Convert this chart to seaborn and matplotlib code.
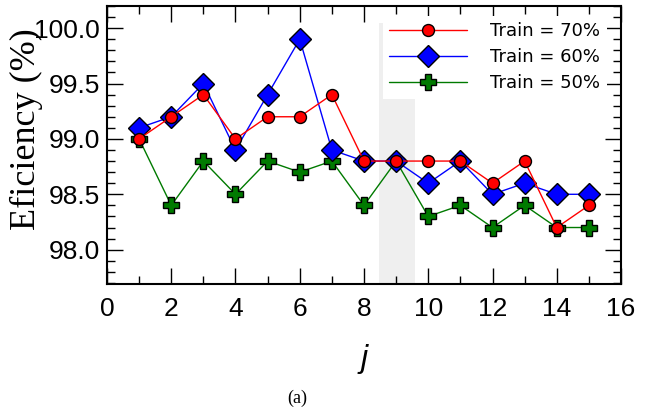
import matplotlib
matplotlib.use("Agg")
import matplotlib.pyplot as plt
from matplotlib.ticker import MultipleLocator
from matplotlib.patches import Rectangle
import seaborn as sns
import pandas as pd

# Step index j and efficiency (%) for each training split
j = [1, 2, 3, 4, 5, 6, 7, 8, 9, 10, 11, 12, 13, 14, 15]
train70 = [99.0, 99.2, 99.4, 99.0, 99.2, 99.2, 99.4, 98.8, 98.8, 98.8, 98.8, 98.6, 98.8, 98.2, 98.4]
train60 = [99.1, 99.2, 99.5, 98.9, 99.4, 99.9, 98.9, 98.8, 98.8, 98.6, 98.8, 98.5, 98.6, 98.5, 98.5]
train50 = [99.0, 98.4, 98.8, 98.5, 98.8, 98.7, 98.8, 98.4, 98.8, 98.3, 98.4, 98.2, 98.4, 98.2, 98.2]
labels = ["Train = 70%", "Train = 60%", "Train = 50%"]

# highlighted band on the j axis
band_x = (8.47, 9.59)
band_top = 100.05

sns.set_style("ticks")
plt.rcParams.update({
    "xtick.direction": "in",
    "ytick.direction": "in",
    "xtick.top": True,
    "ytick.right": True,
    "axes.linewidth": 1.5,
    "text.color": "black",
    "axes.labelcolor": "black",
    "xtick.color": "black",
    "ytick.color": "black",
    "xtick.labelcolor": "black",
    "ytick.labelcolor": "black",
    "axes.edgecolor": "black",
})

fig = plt.figure(figsize=(6.5, 4.11), dpi=100)
ax = fig.add_axes([0.1646, 0.309, 0.7908, 0.6764])

df = pd.DataFrame({"j": j, "t70": train70, "t60": train60, "t50": train50})

ax.add_patch(Rectangle((band_x[0], 97.0), band_x[1] - band_x[0], band_top - 97.0,
                       facecolor="#efefef", edgecolor="none", zorder=0))

common = dict(linewidth=1.0, markeredgecolor="black", markeredgewidth=1.0, ax=ax)
sns.lineplot(data=df, x="j", y="t50", color="#007a00", marker="P", markersize=12,
             markerfacecolor="#007a00", label=labels[2], zorder=3, **common)
sns.lineplot(data=df, x="j", y="t60", color="#0000ff", marker="D", markersize=11.5,
             markerfacecolor="#0000ff", label=labels[1], zorder=4, **common)
sns.lineplot(data=df, x="j", y="t70", color="#ff0000", marker="o", markersize=8.6,
             markerfacecolor="#ff0000", label=labels[0], zorder=5, **common)

ax.set_xlim(0, 16)
ax.set_ylim(97.69, 100.2)
ax.xaxis.set_major_locator(MultipleLocator(2))
ax.xaxis.set_minor_locator(MultipleLocator(1))
ax.yaxis.set_major_locator(MultipleLocator(0.5))
ax.yaxis.set_minor_locator(MultipleLocator(0.1))
ax.set_yticks([98.0, 98.5, 99.0, 99.5, 100.0])
ax.set_yticklabels(["98.0", "98.5", "99.0", "99.5", "100.0"])

for lab in ax.get_xticklabels() + ax.get_yticklabels():
    lab.set_fontfamily("Liberation Sans")
    lab.set_fontsize(19)
    lab.set_color("black")
ax.tick_params(which="both", direction="in", top=True, right=True,
               bottom=True, left=True, width=1.0, color="black")
ax.tick_params(which="major", length=11.5)
ax.tick_params(which="minor", length=6)
ax.tick_params(axis="x", which="major", pad=9)
ax.tick_params(axis="y", which="major", pad=5)
for s in ax.spines.values():
    s.set_visible(True)
    s.set_color("black")

ax.set_xlabel("j", fontfamily="Liberation Sans", fontstyle="italic", fontsize=23,
              color="black")
ax.xaxis.set_label_coords(0.5, -0.215)
ax.set_ylabel("Eficiency (%)", fontfamily="Liberation Serif", fontsize=26,
              color="black")
ax.yaxis.set_label_coords(-0.125, 0.558)

handles, labs = ax.get_legend_handles_labels()
order = [labs.index(l) for l in labels]
leg = ax.legend([handles[i] for i in order], [labs[i] for i in order],
                loc="upper right", bbox_to_anchor=(0.972, 0.965),
                frameon=True, fancybox=False, framealpha=1.0, edgecolor="none",
                facecolor="white", borderpad=0.35, borderaxespad=0.0,
                handlelength=4.3, handletextpad=1.3, labelspacing=0.45,
                prop={"family": "DejaVu Sans", "size": 13})
leg.set_zorder(6)
for t in leg.get_texts():
    t.set_color("black")

fig.text(0.458, 0.032, "(a)", fontfamily="Liberation Serif", fontsize=13,
         ha="center", va="center", color="black")

fig.savefig("out.png", dpi=100)
